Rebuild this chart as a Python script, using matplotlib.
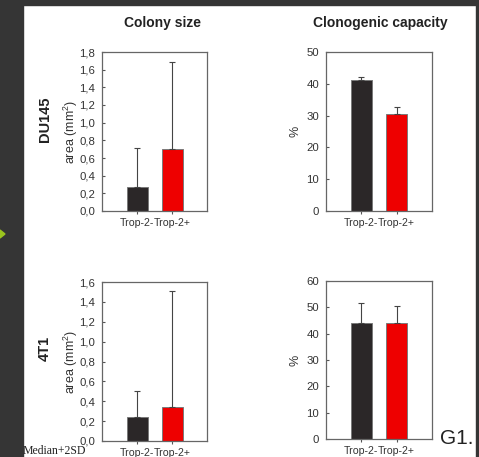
import matplotlib
matplotlib.use("Agg")
import matplotlib.pyplot as plt
from matplotlib.patches import Rectangle, Polygon
from matplotlib.ticker import FuncFormatter, MultipleLocator

plt.rcParams['font.family'] = ['Liberation Sans', 'DejaVu Sans']
plt.rcParams['mathtext.fontset'] = 'custom'
plt.rcParams['mathtext.rm'] = 'Liberation Sans'
plt.rcParams['mathtext.it'] = 'Liberation Sans:italic'

# ---- data ----
groups = ["Trop-2-", "Trop-2+"]
du145_size = [0.27, 0.70]
du145_size_top = [0.71, 1.69]
du145_clono = [41.2, 30.4]
du145_clono_top = [42.1, 32.6]
t41_size = [0.24, 0.34]
t41_size_top = [0.505, 1.51]
t41_clono = [43.9, 44.2]
t41_clono_top = [51.6, 50.4]

bar_colors = ["#2b2728", "#ee0000"]
W, H = 479, 457
fig = plt.figure(figsize=(W / 100, H / 100), dpi=100)

# dark frame
dark = "#353535"
fig.patches.append(Rectangle((0, 0), 23 / W, 1, transform=fig.transFigure, color=dark, zorder=0))
fig.patches.append(Rectangle((0, 1 - 5 / H), 1, 5 / H, transform=fig.transFigure, color=dark, zorder=0))
fig.patches.append(Rectangle((476 / W, 0), 3 / W, 1, transform=fig.transFigure, color=dark, zorder=0))
fig.patches.append(Polygon([(0, 1 - 230 / H), (5 / W, 1 - 234 / H), (0, 1 - 238 / H)],
                           closed=True, transform=fig.transFigure, color="#9bc41e", zorder=1))


def px_axes(x0, x1, y0, y1):
    return fig.add_axes([x0 / W, 1 - y1 / H, (x1 - x0) / W, (y1 - y0) / H])


def comma(v, pos):
    return f"{v:.1f}".replace(".", ",")


def panel(ax, vals, tops, ymax, step, ylabel, label_x, fmt=None):
    x = [1, 2]
    lower = [0, 0]
    upper = [t - v for t, v in zip(tops, vals)]
    ax.bar(x, vals, width=0.6, color=bar_colors, edgecolor="#7a7a7a", linewidth=0.7, zorder=2)
    ax.errorbar(x, vals, yerr=[lower, upper], fmt="none", ecolor="#444444",
                elinewidth=0.8, capsize=2.2, capthick=0.8, zorder=3)
    ax.set_xlim(0, 3)
    ax.set_ylim(0, ymax)
    ax.yaxis.set_major_locator(MultipleLocator(step))
    if fmt:
        ax.yaxis.set_major_formatter(FuncFormatter(fmt))
    ax.set_xticks(x)
    ax.set_xticklabels(groups, fontsize=7.6, color="#333333")
    ax.tick_params(axis="x", direction="out", length=2, width=0.8, color="#555555", pad=3)
    ax.tick_params(axis="y", direction="in", length=2, width=0.8, color="#555555",
                   labelsize=8.2, labelcolor="#333333", pad=5)
    for s in ax.spines.values():
        s.set_color("#666666")
        s.set_linewidth(0.9)
    ax.set_ylabel(ylabel, fontsize=9, color="#333333")
    ax.yaxis.set_label_coords(label_x, 0.5)


ax1 = px_axes(102, 207, 52, 211)
panel(ax1, du145_size, du145_size_top, 1.8, 0.2, "area (mm$^2$)", -0.205, comma)
ax2 = px_axes(326, 432, 52, 211)
panel(ax2, du145_clono, du145_clono_top, 50, 10, "%", -0.235)
ax3 = px_axes(102, 207, 282, 441)
panel(ax3, t41_size, t41_size_top, 1.6, 0.2, "area (mm$^2$)", -0.205, comma)
ax4 = px_axes(326, 432, 281, 439)
panel(ax4, t41_clono, t41_clono_top, 60, 10, "%", -0.235)

fig.text(162 / W, 1 - 23 / H, "Colony size", ha="center", va="center",
         fontsize=10, fontweight="bold", color="#222222")
fig.text(380 / W, 1 - 23 / H, "Clonogenic capacity", ha="center", va="center",
         fontsize=10, fontweight="bold", color="#222222")
fig.text(45 / W, 1 - 119 / H, "DU145", ha="center", va="center", rotation=90,
         fontsize=10.5, fontweight="bold", color="#222222")
fig.text(45 / W, 1 - 348 / H, "4T1", ha="center", va="center", rotation=90,
         fontsize=10.5, fontweight="bold", color="#222222")
fig.text(457 / W, 1 - 439 / H, "G1.", ha="center", va="center",
         fontsize=15, color="#222222")
fig.text(23 / W, 1 - 451 / H, "Median+2SD", ha="left", va="center",
         fontsize=8.5, family=["Liberation Serif", "DejaVu Serif"], color="#222222")

fig.savefig("out.png", dpi=100)
